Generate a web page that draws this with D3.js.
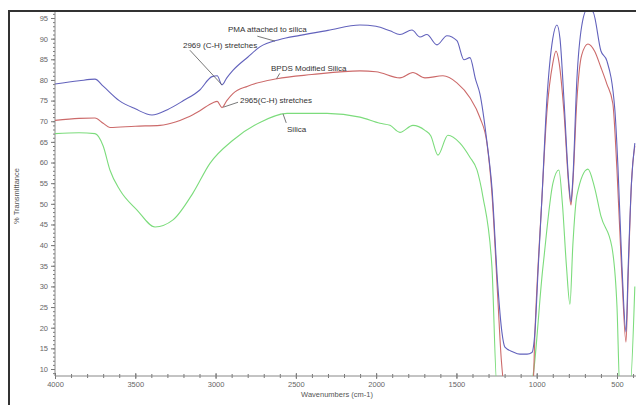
<!DOCTYPE html>
<html>
<head>
<meta charset="utf-8">
<script src="https://cdn.jsdelivr.net/npm/d3@7"></script>
<style>
  body { margin: 0; background: #fff; }
  text { font-family: "Liberation Sans", Arial, sans-serif; }
</style>
</head>
<body>
<div id="chart"></div>
<script>
// FTIR spectra: [wavenumber, %T]
var pmaSilica = [
  [4000, 79], [3850, 79.8], [3751, 80.2], [3700, 78.5], [3600, 75], [3500, 73],
  [3396, 71.5], [3300, 72.8], [3200, 75], [3100, 77.5], [3022, 80.8], [2990, 81],
  [2960, 78.8], [2930, 80.5], [2892, 82.3], [2800, 85.5], [2724, 88], [2600, 89.8],
  [2474, 90.8], [2300, 92], [2101, 93.3], [2001, 93], [1914, 91.9], [1852, 91],
  [1777, 92.1], [1727, 90.4], [1684, 91], [1621, 88.5], [1559, 90.7], [1497, 89.5],
  [1453, 84.9], [1416, 85.4], [1380, 80], [1354, 76.7], [1310, 65], [1279, 54],
  [1242, 30], [1217, 19], [1198, 15.3], [1150, 14.2], [1105, 13.6], [1060, 13.6],
  [1030, 14], [1011, 19], [990, 35], [968, 51], [937, 75], [900, 90], [874, 93.3],
  [855, 90], [830, 75], [800, 55], [787, 50.5], [775, 56], [750, 80], [720, 93],
  [687, 97], [650, 96.5], [600, 87], [563, 84.6], [513, 72.6], [494, 58.9],
  [469, 34.8], [444, 19], [430, 35], [410, 55], [389, 64.7]
];
var bpdsSilica = [
  [4000, 70.2], [3850, 70.7], [3751, 70.8], [3700, 69.5], [3658, 68.5], [3500, 68.8],
  [3346, 69], [3250, 69.8], [3178, 70.9], [3100, 72.5], [3016, 74.5], [2990, 74.8],
  [2960, 73.3], [2930, 75], [2892, 76.7], [2800, 78.5], [2618, 80.3], [2400, 81.3],
  [2101, 82.2], [2001, 82], [1852, 80.5], [1771, 81.8], [1696, 80.5], [1584, 81],
  [1497, 79.3], [1416, 75.7], [1354, 70.9], [1310, 64.7], [1279, 52.6], [1242, 26.9],
  [1220, 12], [1198, 5], [1024, 5], [1011, 19], [968, 51], [937, 72], [900, 84],
  [880, 87], [860, 84], [830, 72], [800, 54], [787, 49.7], [775, 55], [750, 75],
  [720, 86], [681, 88.7], [640, 87], [600, 83], [563, 79], [526, 74.3], [500, 58],
  [470, 33], [444, 16.5], [430, 33], [410, 55], [389, 64]
];
var silica = [
  [4000, 67], [3850, 67.2], [3751, 67], [3700, 64], [3658, 58.2], [3595, 53.3],
  [3489, 48.5], [3377, 44.4], [3265, 46.1], [3141, 52.6], [3035, 59.8], [2892, 65.4],
  [2724, 69.7], [2555, 71.9], [2306, 71.9], [2101, 71], [1976, 69.5], [1914, 69],
  [1852, 67.3], [1771, 69], [1696, 67.8], [1660, 66.5], [1615, 61.8], [1553, 66.6],
  [1478, 64.7], [1416, 61.3], [1372, 58.2], [1335, 51.7], [1279, 34.8], [1248, 6],
  [1039, 6], [961, 34.8], [899, 55], [862, 58.2], [840, 50], [815, 35], [793, 25.7],
  [775, 40], [750, 52], [681, 58.4], [640, 54], [600, 47], [532, 39.6], [500, 25],
  [482, 5], [420, 5], [389, 30]
];

var seriesNames = ["Silica", "BPDS Modified Silica", "PMA attached to silica"];
var seriesColors = ["#7cdc7c", "#cc6a6a", "#6262bc"];

var xMajor = [4000, 3500, 3000, 2500, 2000, 1500, 1000, 500];
var yMajor = [10, 15, 20, 25, 30, 35, 40, 45, 50, 55, 60, 65, 70, 75, 80, 85, 90, 95];

// annotations: text anchor [wavenumber, %T], pointer from/to [wavenumber, %T]
var notes = [
  { label: "PMA attached to silica", at: [2923, 92.3], from: [2740, 90.6], to: [2630, 89.4] },
  { label: "2969 (C-H) stretches", at: [3203, 88.5], from: [3160, 87.2], to: [2960, 78.8] },
  { label: "BPDS Modified Silica", at: [2655, 82.9], from: [2600, 81.6], to: [2620, 80.3] },
  { label: "2965(C-H) stretches", at: [2848, 75.1], from: [2860, 74.6], to: [2952, 73.4] },
  { label: "Silica", at: [2555, 68.1], from: [2560, 69.6], to: [2580, 71.8] }
];

var width = 636, height = 405;
var plotL = 55, plotT = 12, plotB = 376, plotR = 636;

var svg = d3.select("#chart").append("svg")
  .attr("width", width)
  .attr("height", height);

var x = d3.scaleLinear().domain([4000, 500]).range([55, 617]);
var y = d3.scaleLinear().domain([10, 95]).range([369, 18]);

// frame
svg.append("line").attr("x1", 8).attr("x2", width).attr("y1", 11).attr("y2", 11)
  .attr("stroke", "#333").attr("stroke-width", 2);
svg.append("line").attr("x1", 9).attr("x2", 9).attr("y1", 10).attr("y2", height)
  .attr("stroke", "#333").attr("stroke-width", 2);

svg.append("clipPath").attr("id", "plot")
  .append("rect").attr("x", plotL).attr("y", plotT)
  .attr("width", plotR - plotL).attr("height", plotB - plotT);

// y axis
var yMinor = d3.range(9, 97, 1);
svg.append("g").attr("transform", "translate(" + plotL + ",0)")
  .call(d3.axisLeft(y).tickValues(yMinor).tickSize(2).tickFormat(""))
  .call(function(g) { g.select(".domain").remove(); })
  .selectAll("line").attr("stroke", "#777");
var yAxis = svg.append("g").attr("transform", "translate(" + plotL + ",0)")
  .call(d3.axisLeft(y).tickValues(yMajor).tickSize(4).tickPadding(3));
yAxis.select(".domain").remove();
yAxis.selectAll("line").attr("stroke", "#777");
yAxis.selectAll("text").attr("font-size", 7.5).attr("fill", "#666")
  .attr("font-family", "Liberation Sans, Arial, sans-serif");
svg.append("line").attr("x1", plotL).attr("x2", plotL).attr("y1", plotT).attr("y2", plotB)
  .attr("stroke", "#888").attr("stroke-width", 1);

// x axis
var xMinor = d3.range(4000, 300, -100);
svg.append("g").attr("transform", "translate(0," + plotB + ")")
  .call(d3.axisBottom(x).tickValues(xMinor).tickSize(2).tickFormat(""))
  .call(function(g) { g.select(".domain").remove(); })
  .selectAll("line").attr("stroke", "#777").attr("y1", -2);
var xAxis = svg.append("g").attr("transform", "translate(0," + plotB + ")")
  .call(d3.axisBottom(x).tickValues(xMajor).tickSize(3).tickPadding(3).tickFormat(d3.format("d")));
xAxis.select(".domain").remove();
xAxis.selectAll("line").attr("stroke", "#777").attr("y1", -3);
xAxis.selectAll("text").attr("font-size", 7.5).attr("fill", "#666")
  .attr("font-family", "Liberation Sans, Arial, sans-serif");
svg.append("line").attr("x1", plotL).attr("x2", plotR).attr("y1", plotB).attr("y2", plotB)
  .attr("stroke", "#888").attr("stroke-width", 1);

// axis titles
svg.append("text").attr("x", 337).attr("y", 397).attr("text-anchor", "middle")
  .attr("font-size", 7.5).attr("fill", "#555").text("Wavenumbers (cm-1)");
svg.append("text").attr("transform", "translate(19,196) rotate(-90)")
  .attr("text-anchor", "middle").attr("font-size", 7.5).attr("fill", "#555")
  .text("% Transmittance");

// spectra
var line = d3.line()
  .x(function(d) { return x(d[0]); })
  .y(function(d) { return y(d[1]); })
  .curve(d3.curveMonotoneX);

var plot = svg.append("g").attr("clip-path", "url(#plot)");
[silica, bpdsSilica, pmaSilica].forEach(function(s, i) {
  plot.append("path").datum(s)
    .attr("d", line)
    .attr("fill", "none")
    .attr("stroke", seriesColors[i])
    .attr("stroke-width", 1.1);
});

// annotations
notes.forEach(function(n) {
  svg.append("line")
    .attr("x1", x(n.from[0])).attr("y1", y(n.from[1]))
    .attr("x2", x(n.to[0])).attr("y2", y(n.to[1]))
    .attr("stroke", "#555").attr("stroke-width", 0.8);
  svg.append("text")
    .attr("x", x(n.at[0])).attr("y", y(n.at[1]))
    .attr("dy", "0.35em")
    .attr("font-size", 8).attr("fill", "#333")
    .text(n.label);
});
</script>
</body>
</html>
